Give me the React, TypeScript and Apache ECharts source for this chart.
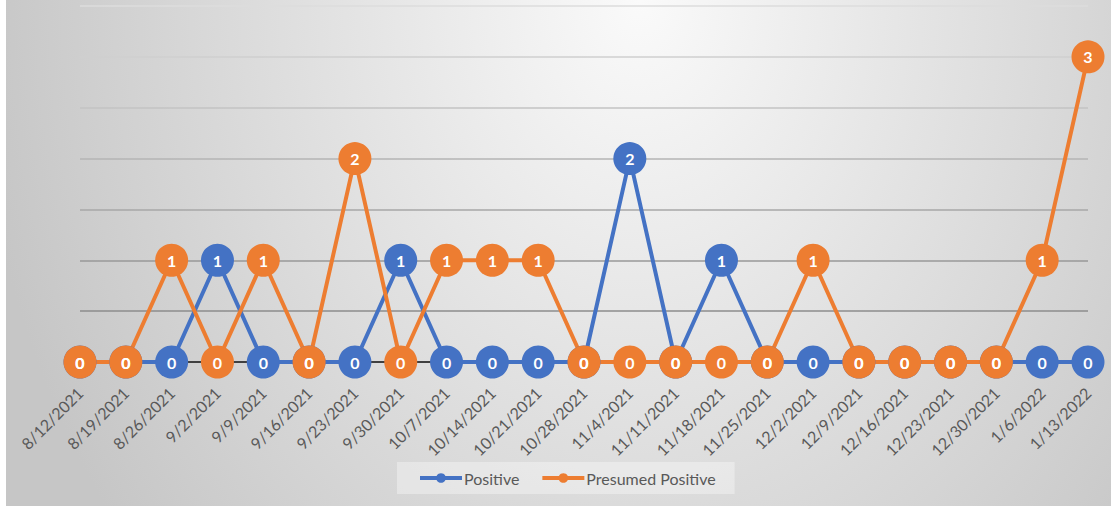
import React, { useEffect, useRef } from "react";
import * as echarts from "echarts";

const dates = [
  "8/12/2021", "8/19/2021", "8/26/2021", "9/2/2021", "9/9/2021", "9/16/2021",
  "9/23/2021", "9/30/2021", "10/7/2021", "10/14/2021", "10/21/2021", "10/28/2021",
  "11/4/2021", "11/11/2021", "11/18/2021", "11/25/2021", "12/2/2021", "12/9/2021",
  "12/16/2021", "12/23/2021", "12/30/2021", "1/6/2022", "1/13/2022",
];
const positive = [0, 0, 0, 1, 0, 0, 0, 1, 0, 0, 0, 0, 2, 0, 1, 0, 0, 0, 0, 0, 0, 0, 0];
const presumedPositive = [0, 0, 1, 0, 1, 0, 2, 0, 1, 1, 1, 0, 0, 0, 0, 0, 1, 0, 0, 0, 0, 1, 3];

const gridColors = ["#404040", "#8d8d8d", "#999999", "#a7a7a7", "#b5b5b5", "#c3c3c3", "#cfcfcf", "#dcdcdc"];

const FONT = "Lato, 'Open Sans', sans-serif";

export default function App() {
  const ref = useRef<HTMLDivElement>(null);
  useEffect(() => {
    if (!ref.current) return;
    const chart = echarts.init(ref.current, undefined, { renderer: "svg" });
    const mkSeries = (name: string, data: number[], color: string) => ({
      name,
      type: "line",
      data,
      symbol: "circle",
      symbolSize: 33,
      itemStyle: { color },
      lineStyle: { color, width: 4 },
      label: {
        show: true,
        position: "inside",
        color: "#ffffff",
        fontWeight: "bold",
        fontSize: 16,
        fontFamily: FONT,
      },
      emphasis: { disabled: true },
    });
    chart.setOption({
      animation: false,
      backgroundColor: "transparent",
      grid: { left: 80, right: 26, top: 6, bottom: 144, containLabel: false },
      xAxis: {
        type: "category",
        data: dates,
        boundaryGap: false,
        axisLine: { show: true, lineStyle: { color: "#404040", width: 2 } },
        axisTick: { show: false },
        axisLabel: {
          rotate: 45,
          color: "#595959",
          fontSize: 16,
          fontFamily: FONT,
          margin: 28,
          interval: 0,
        },
        splitLine: { show: false },
      },
      yAxis: {
        type: "value",
        min: 0,
        max: 3.5,
        interval: 0.5,
        axisLabel: { show: false },
        axisLine: { show: false },
        axisTick: { show: false },
        splitLine: { show: true, lineStyle: { color: gridColors, width: 1.5 } },
      },
      legend: {
        left: 397,
        top: 462,
        padding: [8, 19, 8, 21],
        itemGap: 21,
        itemWidth: 42,
        itemHeight: 12,
        lineStyle: { width: 4 },
        backgroundColor: "rgba(255,255,255,0.35)",
        textStyle: { color: "#595959", fontSize: 16, fontFamily: FONT, padding: [0, 0, 0, -3] },
        data: ["Positive", "Presumed Positive"],
      },
      series: [
        mkSeries("Positive", positive, "#4472C4"),
        mkSeries("Presumed Positive", presumedPositive, "#ED7D31"),
      ],
    });
    return () => chart.dispose();
  }, []);
  return (
    <div style={{ position: "absolute", left: 0, top: 0, width: 1114, height: 506, background: "#ffffff" }}>
      <div
        style={{
          position: "absolute",
          left: 6,
          top: 0,
          width: 1105,
          height: 506,
          background: "radial-gradient(667px 849px at 634px 0px, #fafafa 0%, #c6c6c6 100%)",
        }}
      />
      <div ref={ref} style={{ position: "absolute", left: 0, top: 0, width: 1114, height: 506 }} />
    </div>
  );
}
